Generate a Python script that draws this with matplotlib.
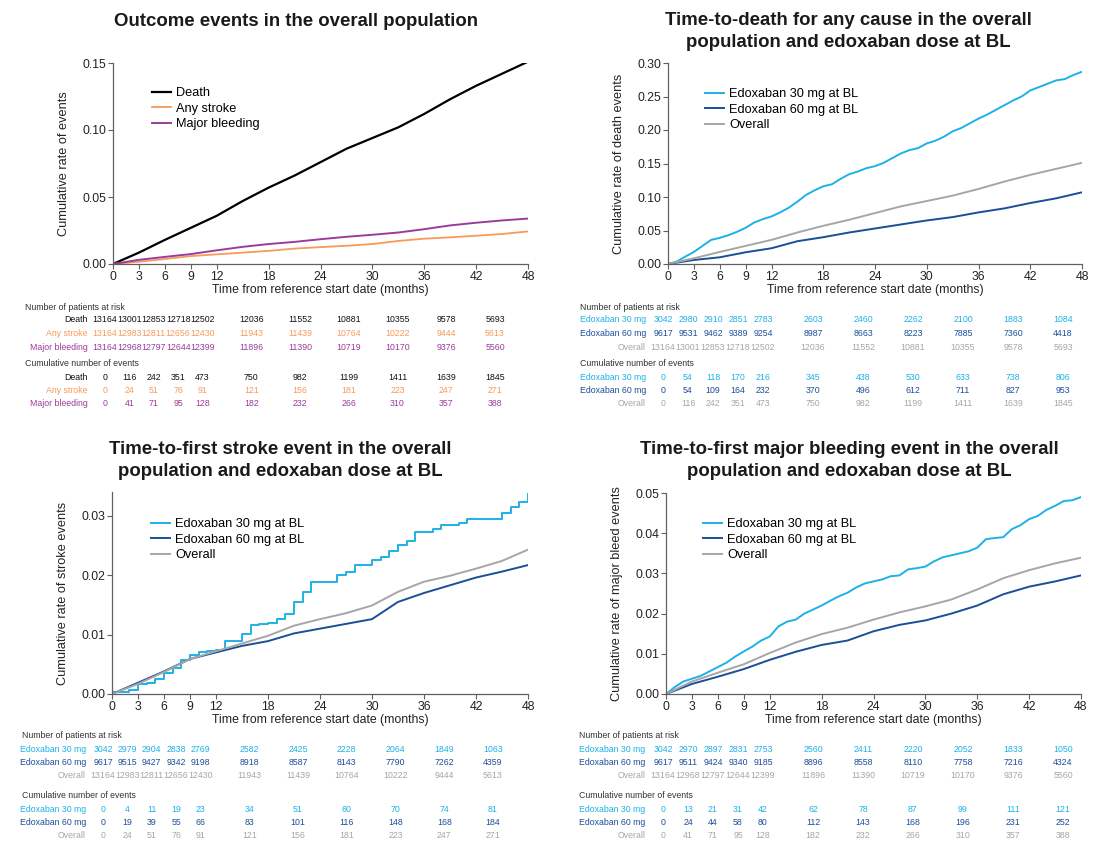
import matplotlib
matplotlib.use("Agg")
import matplotlib.pyplot as plt

plt.rcParams["font.family"] = ["Liberation Sans", "DejaVu Sans"]

W, H = 1106, 844

# ---------------------------------------------------------------- data
TICK_MONTHS = [0, 3, 6, 9, 12, 18, 24, 30, 36, 42, 48]
MONTHS_3 = list(range(0, 49, 3))
MONTHS_1 = list(range(0, 49))

# Death
death_overall = [0, 0.0085, 0.018, 0.027, 0.036, 0.047, 0.057, 0.066, 0.076,
                 0.086, 0.094, 0.102, 0.112, 0.123, 0.133, 0.142, 0.151]
death_60 = [0, 0.006, 0.010, 0.0175, 0.0235, 0.034, 0.040, 0.047, 0.053,
            0.059, 0.065, 0.070, 0.077, 0.083, 0.091, 0.098, 0.107]
death_30 = [0, 0.0035, 0.011, 0.018, 0.027, 0.036, 0.039, 0.043, 0.048, 0.054,
            0.062, 0.067, 0.071, 0.077, 0.084, 0.093, 0.103, 0.110, 0.116,
            0.119, 0.127, 0.134, 0.138, 0.143, 0.146, 0.151, 0.158, 0.165,
            0.170, 0.173, 0.180, 0.184, 0.190, 0.198, 0.203, 0.210, 0.217,
            0.223, 0.230, 0.237, 0.244, 0.250, 0.259, 0.264, 0.269, 0.274,
            0.276, 0.282, 0.287]

# Stroke
stroke_overall = [0, 0.0017, 0.0037, 0.0059, 0.0072, 0.0085, 0.0098, 0.0115,
                  0.0126, 0.0136, 0.0149, 0.0172, 0.0189, 0.0199, 0.0211,
                  0.0224, 0.0243]
stroke_60 = [0, 0.0019, 0.0038, 0.0059, 0.0070, 0.0081, 0.0089, 0.0102,
             0.0110, 0.0118, 0.0126, 0.0155, 0.0170, 0.0183, 0.0196, 0.0206,
             0.0217]
stroke_30 = [0.0004, 0.0004, 0.0007, 0.0017, 0.0018, 0.0026, 0.0036, 0.0044,
             0.0058, 0.0065, 0.0070, 0.0072, 0.0074, 0.0089, 0.0089, 0.0101,
             0.0116, 0.0118, 0.0120, 0.0127, 0.0135, 0.0155, 0.0172, 0.0188,
             0.0188, 0.0188, 0.0200, 0.0205, 0.0217, 0.0217, 0.0226, 0.0231,
             0.0241, 0.0251, 0.0258, 0.0273, 0.0273, 0.0278, 0.0285, 0.0285,
             0.0288, 0.0294, 0.0294, 0.0294, 0.0294, 0.0305, 0.0314, 0.0324,
             0.0337]

# Major bleeding
bleed_overall = [0, 0.0031, 0.0053, 0.0074, 0.0102, 0.0128, 0.0149, 0.0165,
                 0.0185, 0.0203, 0.0218, 0.0235, 0.0260, 0.0288, 0.0308,
                 0.0325, 0.0339]
bleed_60 = [0, 0.0025, 0.0043, 0.0062, 0.0085, 0.0105, 0.0122, 0.0133,
            0.0156, 0.0172, 0.0183, 0.0200, 0.0220, 0.0248, 0.0267, 0.0280,
            0.0295]
bleed_30 = [0, 0.0017, 0.0031, 0.0038, 0.0045, 0.0056, 0.0067, 0.0078, 0.0093,
            0.0106, 0.0118, 0.0133, 0.0143, 0.0168, 0.0180, 0.0185, 0.0200,
            0.0210, 0.0220, 0.0232, 0.0243, 0.0252, 0.0265, 0.0275, 0.0280,
            0.0285, 0.0293, 0.0295, 0.0310, 0.0313, 0.0317, 0.0330, 0.0340,
            0.0345, 0.0350, 0.0355, 0.0364, 0.0385, 0.0388, 0.0390, 0.0410,
            0.0420, 0.0435, 0.0443, 0.0458, 0.0468, 0.0480, 0.0482, 0.0490]

# Numbers at risk
risk_death_overall = [13164, 13001, 12853, 12718, 12502, 12036, 11552, 10881, 10355, 9578, 5693]
risk_stroke_overall = [13164, 12983, 12811, 12656, 12430, 11943, 11439, 10764, 10222, 9444, 5613]
risk_bleed_overall = [13164, 12968, 12797, 12644, 12399, 11896, 11390, 10719, 10170, 9376, 5560]
risk_death_30 = [3042, 2980, 2910, 2851, 2783, 2603, 2460, 2262, 2100, 1883, 1084]
risk_death_60 = [9617, 9531, 9462, 9389, 9254, 8987, 8663, 8223, 7885, 7360, 4418]
risk_stroke_30 = [3042, 2979, 2904, 2838, 2769, 2582, 2425, 2228, 2064, 1849, 1063]
risk_stroke_60 = [9617, 9515, 9427, 9342, 9198, 8918, 8587, 8143, 7790, 7262, 4359]
risk_bleed_30 = [3042, 2970, 2897, 2831, 2753, 2560, 2411, 2220, 2052, 1833, 1050]
risk_bleed_60 = [9617, 9511, 9424, 9340, 9185, 8896, 8558, 8110, 7758, 7216, 4324]

# Cumulative number of events
ev_death_overall = [0, 116, 242, 351, 473, 750, 982, 1199, 1411, 1639, 1845]
ev_stroke_overall = [0, 24, 51, 76, 91, 121, 156, 181, 223, 247, 271]
ev_bleed_overall = [0, 41, 71, 95, 128, 182, 232, 266, 310, 357, 388]
ev_death_30 = [0, 54, 118, 170, 216, 345, 438, 530, 633, 738, 806]
ev_death_60 = [0, 54, 109, 164, 232, 370, 496, 612, 711, 827, 953]
ev_stroke_30 = [0, 4, 11, 19, 23, 34, 51, 60, 70, 74, 81]
ev_stroke_60 = [0, 19, 39, 55, 66, 83, 101, 116, 148, 168, 184]
ev_bleed_30 = [0, 13, 21, 31, 42, 62, 78, 87, 99, 111, 121]
ev_bleed_60 = [0, 24, 44, 58, 80, 112, 143, 168, 196, 231, 252]

# ---------------------------------------------------------------- style
C_DEATH = "#000000"
C_STROKE = "#F79A5A"
C_BLEED = "#9B3C9B"
C_30 = "#1EB1E7"
C_60 = "#1C4E98"
C_ALL = "#A6A6A6"
C_SPINE = "#606060"

XLABEL = "Time from reference start date (months)"

fig = plt.figure(figsize=(W / 100, H / 100), dpi=100)


def add_axes_px(left, top, right, bottom):
    return fig.add_axes([left / W, 1 - bottom / H, (right - left) / W, (bottom - top) / H])


def style_axes(ax, ylim, yticks, ylabel):
    ax.set_xlim(0, 48)
    ax.set_ylim(*ylim)
    ax.set_xticks(TICK_MONTHS)
    ax.set_yticks(yticks)
    ax.set_yticklabels([f"{v:.2f}" for v in yticks])
    for s in ("top", "right"):
        ax.spines[s].set_visible(False)
    for s in ("left", "bottom"):
        ax.spines[s].set_color(C_SPINE)
        ax.spines[s].set_linewidth(0.9)
    ax.tick_params(axis="both", direction="out", length=3.5, width=0.8,
                   color=C_SPINE, labelsize=8.8, labelcolor="#222222", pad=1.5)
    ax.set_xlabel(XLABEL, fontsize=8.8, color="#222222", labelpad=1)
    ax.set_ylabel(ylabel, fontsize=9.2, color="#222222", labelpad=9)


def legend_px(ax, ax_box, handles_labels, x_px, y_px):
    left, top, right, bottom = ax_box
    fx = (x_px - left) / (right - left)
    fy = (bottom - y_px) / (bottom - top)
    handles, labels = handles_labels
    ax.legend(handles, labels, loc="upper left", bbox_to_anchor=(fx, fy),
              frameon=False, fontsize=9.2, handlelength=1.45, handletextpad=0.45,
              labelspacing=0.28, borderpad=0, borderaxespad=0)


def ftext(x, y, s, **kw):
    fig.text(x / W, 1 - y / H, s, **kw)


def draw_table(label_right, col0, col48, header_left, y_head1, rows_risk, y_head2, rows_ev):
    def col_x(m):
        return col0 + (col48 - col0) * m / 48

    ftext(header_left, y_head1, "Number of patients at risk", fontsize=6.3,
          color="#333333", va="center", ha="left")
    for (label, vals, color), y in zip(rows_risk, [y_head1 + 13, y_head1 + 26.5, y_head1 + 40]):
        ftext(label_right, y, label, fontsize=6.3, color=color, va="center", ha="right")
        for m, v in zip(TICK_MONTHS, vals):
            ftext(col_x(m), y, str(v), fontsize=6.3, color=color, va="center", ha="center")
    ftext(header_left, y_head2, "Cumulative number of events", fontsize=6.3,
          color="#333333", va="center", ha="left")
    for (label, vals, color), y in zip(rows_ev, [y_head2 + 14, y_head2 + 27.5, y_head2 + 41]):
        ftext(label_right, y, label, fontsize=6.3, color=color, va="center", ha="right")
        for m, v in zip(TICK_MONTHS, vals):
            ftext(col_x(m), y, str(v), fontsize=6.3, color=color, va="center", ha="center")


TITLE_KW = dict(fontsize=13.4, fontweight="bold", color="#1a1a1a", ha="center", va="center")

# ---------------------------------------------------------------- panel 1
box1 = (113, 63, 528, 264)
ax1 = add_axes_px(*box1)
h_d, = ax1.plot(MONTHS_3, death_overall, color=C_DEATH, lw=1.6)
h_s, = ax1.plot(MONTHS_3, stroke_overall, color=C_STROKE, lw=1.3)
h_b, = ax1.plot(MONTHS_3, bleed_overall, color=C_BLEED, lw=1.4)
style_axes(ax1, (0, 0.15), [0, 0.05, 0.10, 0.15], "Cumulative rate of events")
legend_px(ax1, box1, ([h_d, h_s, h_b], ["Death", "Any stroke", "Major bleeding"]), 152, 87)
ftext(296, 21, "Outcome events in the overall population", **TITLE_KW)

draw_table(88, 105, 495, 25, 307,
           [("Death", risk_death_overall, "#111111"),
            ("Any stroke", risk_stroke_overall, C_STROKE),
            ("Major bleeding", risk_bleed_overall, C_BLEED)],
           363,
           [("Death", ev_death_overall, "#111111"),
            ("Any stroke", ev_stroke_overall, C_STROKE),
            ("Major bleeding", ev_bleed_overall, C_BLEED)])

# ---------------------------------------------------------------- panel 2
box2 = (668, 63, 1082, 264)
ax2 = add_axes_px(*box2)
h30, = ax2.plot(MONTHS_1, death_30, color=C_30, lw=1.4)
h60, = ax2.plot(MONTHS_3, death_60, color=C_60, lw=1.4)
hall, = ax2.plot(MONTHS_3, death_overall, color=C_ALL, lw=1.4)
style_axes(ax2, (0, 0.30), [0, 0.05, 0.10, 0.15, 0.20, 0.25, 0.30],
           "Cumulative rate of death events")
legend_px(ax2, box2, ([h30, h60, hall], ["Edoxaban 30 mg at BL", "Edoxaban 60 mg at BL", "Overall"]), 705, 88)
ftext(848, 20.5, "Time-to-death for any cause in the overall", **TITLE_KW)
ftext(848, 42.5, "population and edoxaban dose at BL", **TITLE_KW)

draw_table(646, 663, 1063, 580, 307,
           [("Edoxaban 30 mg", risk_death_30, C_30),
            ("Edoxaban 60 mg", risk_death_60, C_60),
            ("Overall", risk_death_overall, C_ALL)],
           363,
           [("Edoxaban 30 mg", ev_death_30, C_30),
            ("Edoxaban 60 mg", ev_death_60, C_60),
            ("Overall", ev_death_overall, C_ALL)])

# ---------------------------------------------------------------- panel 3
box3 = (112, 492, 528, 694)
ax3 = add_axes_px(*box3)
h30, = ax3.plot(MONTHS_1, stroke_30, color=C_30, lw=1.4, drawstyle="steps-post")
h60, = ax3.plot(MONTHS_3, stroke_60, color=C_60, lw=1.4)
hall, = ax3.plot(MONTHS_3, stroke_overall, color=C_ALL, lw=1.4)
style_axes(ax3, (0, 0.034), [0, 0.01, 0.02, 0.03], "Cumulative rate of stroke events")
legend_px(ax3, box3, ([h30, h60, hall], ["Edoxaban 30 mg at BL", "Edoxaban 60 mg at BL", "Overall"]), 151, 518)
ftext(280, 450, "Time-to-first stroke event in the overall", **TITLE_KW)
ftext(280, 471.5, "population and edoxaban dose at BL", **TITLE_KW)

draw_table(86, 103, 493, 22, 736,
           [("Edoxaban 30 mg", risk_stroke_30, C_30),
            ("Edoxaban 60 mg", risk_stroke_60, C_60),
            ("Overall", risk_stroke_overall, C_ALL)],
           795,
           [("Edoxaban 30 mg", ev_stroke_30, C_30),
            ("Edoxaban 60 mg", ev_stroke_60, C_60),
            ("Overall", ev_stroke_overall, C_ALL)])

# ---------------------------------------------------------------- panel 4
box4 = (666, 493, 1081, 694)
ax4 = add_axes_px(*box4)
h30, = ax4.plot(MONTHS_1, bleed_30, color=C_30, lw=1.4)
h60, = ax4.plot(MONTHS_3, bleed_60, color=C_60, lw=1.4)
hall, = ax4.plot(MONTHS_3, bleed_overall, color=C_ALL, lw=1.4)
style_axes(ax4, (0, 0.05), [0, 0.01, 0.02, 0.03, 0.04, 0.05],
           "Cumulative rate of major bleed events")
legend_px(ax4, box4, ([h30, h60, hall], ["Edoxaban 30 mg at BL", "Edoxaban 60 mg at BL", "Overall"]), 703, 518)
ftext(849, 450, "Time-to-first major bleeding event in the overall", **TITLE_KW)
ftext(849, 471.5, "population and edoxaban dose at BL", **TITLE_KW)

draw_table(645, 663, 1063, 579, 736,
           [("Edoxaban 30 mg", risk_bleed_30, C_30),
            ("Edoxaban 60 mg", risk_bleed_60, C_60),
            ("Overall", risk_bleed_overall, C_ALL)],
           795,
           [("Edoxaban 30 mg", ev_bleed_30, C_30),
            ("Edoxaban 60 mg", ev_bleed_60, C_60),
            ("Overall", ev_bleed_overall, C_ALL)])

fig.savefig("out.png", dpi=100, facecolor="white")
